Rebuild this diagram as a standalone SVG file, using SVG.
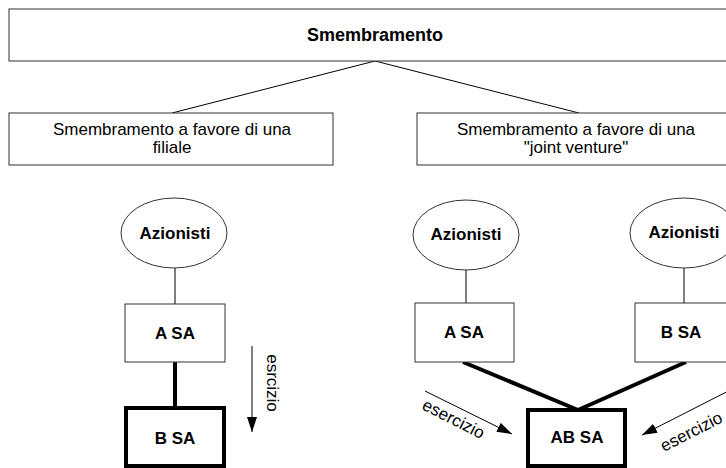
<svg xmlns="http://www.w3.org/2000/svg" width="726" height="468" viewBox="0 0 726 468">
  <style>
    .box { fill: #fff; stroke: #333; stroke-width: 1; }
    .thick { fill: #fff; stroke: #000; stroke-width: 4; }
    .oval { fill: #fff; stroke: #333; stroke-width: 1; }
    .t { font-family: "Liberation Sans", Arial, sans-serif; font-size: 17px; fill: #000; text-anchor: middle; }
    .b { font-weight: bold; }
    .thin { stroke: #000; stroke-width: 1; fill: none; }
    .heavy { stroke: #000; stroke-width: 4; fill: none; }
    .arr { stroke: #000; stroke-width: 1; fill: none; marker-end: url(#head); }
  </style>
  <defs>
    <marker id="head" markerUnits="userSpaceOnUse" markerWidth="15" markerHeight="10" refX="15" refY="5" orient="auto">
      <path d="M0,0 L15,5 L0,10 z" fill="#000"/>
    </marker>
  </defs>
  <rect width="726" height="468" fill="#fff"/>

  <!-- connectors -->
  <g id="connectors">
    <line class="thin" x1="375" y1="61" x2="172" y2="113"/>
    <line class="thin" x1="375" y1="61" x2="579" y2="113"/>
    <line class="thin" x1="175" y1="268" x2="175" y2="304"/>
    <line class="thin" x1="466" y1="270" x2="466" y2="303"/>
    <line class="thin" x1="684" y1="268" x2="684" y2="303"/>
    <line class="heavy" x1="175" y1="362" x2="175" y2="408"/>
    <line class="heavy" x1="463" y1="362" x2="578" y2="410"/>
    <line class="heavy" x1="686" y1="362" x2="578" y2="410"/>
    <line class="arr" x1="252" y1="346" x2="252" y2="432"/>
    <line class="arr" x1="425" y1="391" x2="512" y2="434"/>
    <line class="arr" x1="746" y1="382" x2="642" y2="435"/>
    <text class="t" transform="translate(267,383) rotate(90)">esrcizio</text>
    <text class="t" transform="translate(451,424) rotate(27)">esercizio</text>
    <text class="t" transform="translate(664,452) rotate(-27)" style="text-anchor:start">esercizio</text>
  </g>

  <g id="root">
    <rect class="box" x="9" y="9" width="740" height="52"/>
    <text class="t b" x="375" y="41" style="font-size:18px">Smembramento</text>
  </g>
  <g id="filiale">
    <rect class="box" x="9" y="113" width="324" height="52"/>
    <text class="t" x="172" y="135">Smembramento a favore di una</text>
    <text class="t" x="172" y="153">filiale</text>
  </g>
  <g id="joint-venture">
    <rect class="box" x="417" y="113" width="330" height="52"/>
    <text class="t" x="576" y="135">Smembramento a favore di una</text>
    <text class="t" x="576" y="153">"joint venture"</text>
  </g>

  <g id="azionisti-1">
    <ellipse class="oval" cx="174" cy="233" rx="53" ry="35"/>
    <text class="t b" x="175" y="239">Azionisti</text>
  </g>
  <g id="asa-1">
    <rect class="box" x="125" y="304" width="100" height="58"/>
    <text class="t b" x="175" y="339">A SA</text>
  </g>
  <g id="bsa-1">
    <rect class="thick" x="126" y="408" width="98" height="58"/>
    <text class="t b" x="175" y="444">B SA</text>
  </g>

  <g id="azionisti-2">
    <ellipse class="oval" cx="466" cy="235" rx="53" ry="35"/>
    <text class="t b" x="466" y="240">Azionisti</text>
  </g>
  <g id="asa-2">
    <rect class="box" x="415" y="303" width="99" height="59"/>
    <text class="t b" x="464" y="338">A SA</text>
  </g>

  <g id="azionisti-3">
    <ellipse class="oval" cx="684" cy="233" rx="54" ry="35"/>
    <text class="t b" x="684" y="238">Azionisti</text>
  </g>
  <g id="bsa-2">
    <rect class="box" x="635" y="303" width="100" height="59"/>
    <text class="t b" x="681" y="338">B SA</text>
  </g>

  <g id="absa">
    <rect class="thick" x="528" y="410" width="97" height="56"/>
    <text class="t b" x="577" y="443">AB SA</text>
  </g>
</svg>
